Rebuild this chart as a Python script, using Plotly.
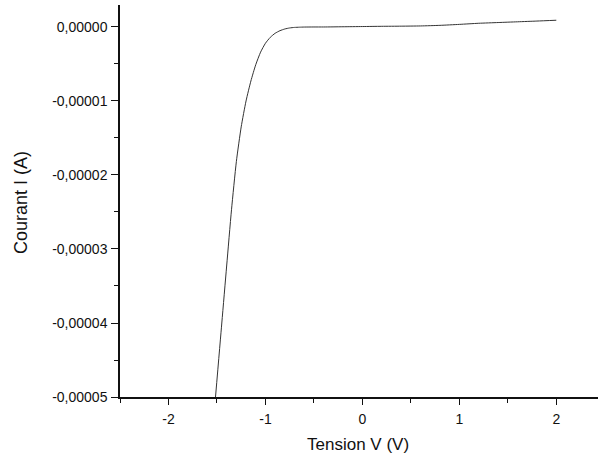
import plotly.graph_objects as go

# Data (voltage in V, current in µA -> converted to A)
tension_v = [-1.515, -1.45, -1.40, -1.35, -1.30, -1.25, -1.20, -1.15, -1.10,
             -1.05, -1.00, -0.95, -0.90, -0.85, -0.80, -0.75, -0.70, -0.65, -0.60,
             -0.50, -0.40, -0.20, 0.00, 0.20, 0.40, 0.60, 0.80, 1.00, 1.20, 1.40,
             1.60, 1.80, 2.00]
courant_ua = [-50.0, -40.0, -32.3, -24.7, -18.2, -13.5, -10.0, -7.3, -5.1,
              -3.4, -2.2, -1.4, -0.85, -0.5, -0.27, -0.13, -0.06, -0.03, -0.01,
              0.0, 0.0, 0.03, 0.06, 0.09, 0.11, 0.14, 0.22, 0.35, 0.50, 0.60,
              0.70, 0.80, 0.91]
courant_a = [v * 1e-6 for v in courant_ua]

x_tickvals = [-2, -1, 0, 1, 2]
x_ticktext = ["-2", "-1", "0", "1", "2"]
y_tickvals = [0, -1e-5, -2e-5, -3e-5, -4e-5, -5e-5]
y_ticktext = ["0,00000", "-0,00001", "-0,00002", "-0,00003", "-0,00004", "-0,00005"]

FONT = "Liberation Sans, Arial, sans-serif"
INK = "#111111"

fig = go.Figure()
fig.add_trace(go.Scatter(
    x=tension_v, y=courant_a, mode="lines",
    line=dict(color="#333333", width=1, shape="spline", smoothing=0.6),
    showlegend=False, hoverinfo="skip",
))

fig.update_layout(
    width=598, height=457,
    margin=dict(l=120, r=0, t=5, b=60),
    paper_bgcolor="white", plot_bgcolor="white",
    font=dict(family=FONT, color=INK, size=14),
    xaxis=dict(
        range=[-2.5, 2.43], showgrid=False, zeroline=False,
        showline=True, linecolor=INK, linewidth=1.5,
        ticks="outside", ticklen=6, tickwidth=1.3, tickcolor=INK,
        tickvals=x_tickvals, ticktext=x_ticktext,
        tickfont=dict(size=14, family=FONT, color=INK),
        ticklabelstandoff=2,
        minor=dict(ticks="outside", ticklen=4, tickwidth=1.3, tickcolor=INK,
                   tick0=-2.5, dtick=1, showgrid=False),
    ),
    yaxis=dict(
        range=[-5e-5, 2.97e-6], showgrid=False, zeroline=False,
        showline=True, linecolor=INK, linewidth=1.5,
        ticks="outside", ticklen=7, tickwidth=1.3, tickcolor=INK,
        tickvals=y_tickvals, ticktext=y_ticktext,
        tickfont=dict(size=14, family=FONT, color=INK),
        ticklabelstandoff=1,
        minor=dict(ticks="outside", ticklen=4, tickwidth=1.3, tickcolor=INK,
                   tick0=-4.5e-5, dtick=1e-5, showgrid=False),
    ),
    annotations=[
        dict(text="Tension V (V)", xref="paper", yref="paper", x=0.4976, y=-0.122,
             xanchor="center", yanchor="middle", showarrow=False,
             font=dict(size=17, family=FONT, color=INK)),
        dict(text="Courant I (A)", xref="paper", yref="paper", x=-0.207, y=0.495,
             xanchor="center", yanchor="middle", showarrow=False, textangle=-90,
             font=dict(size=18, family=FONT, color=INK)),
    ],
)

fig.write_html("out.html")
